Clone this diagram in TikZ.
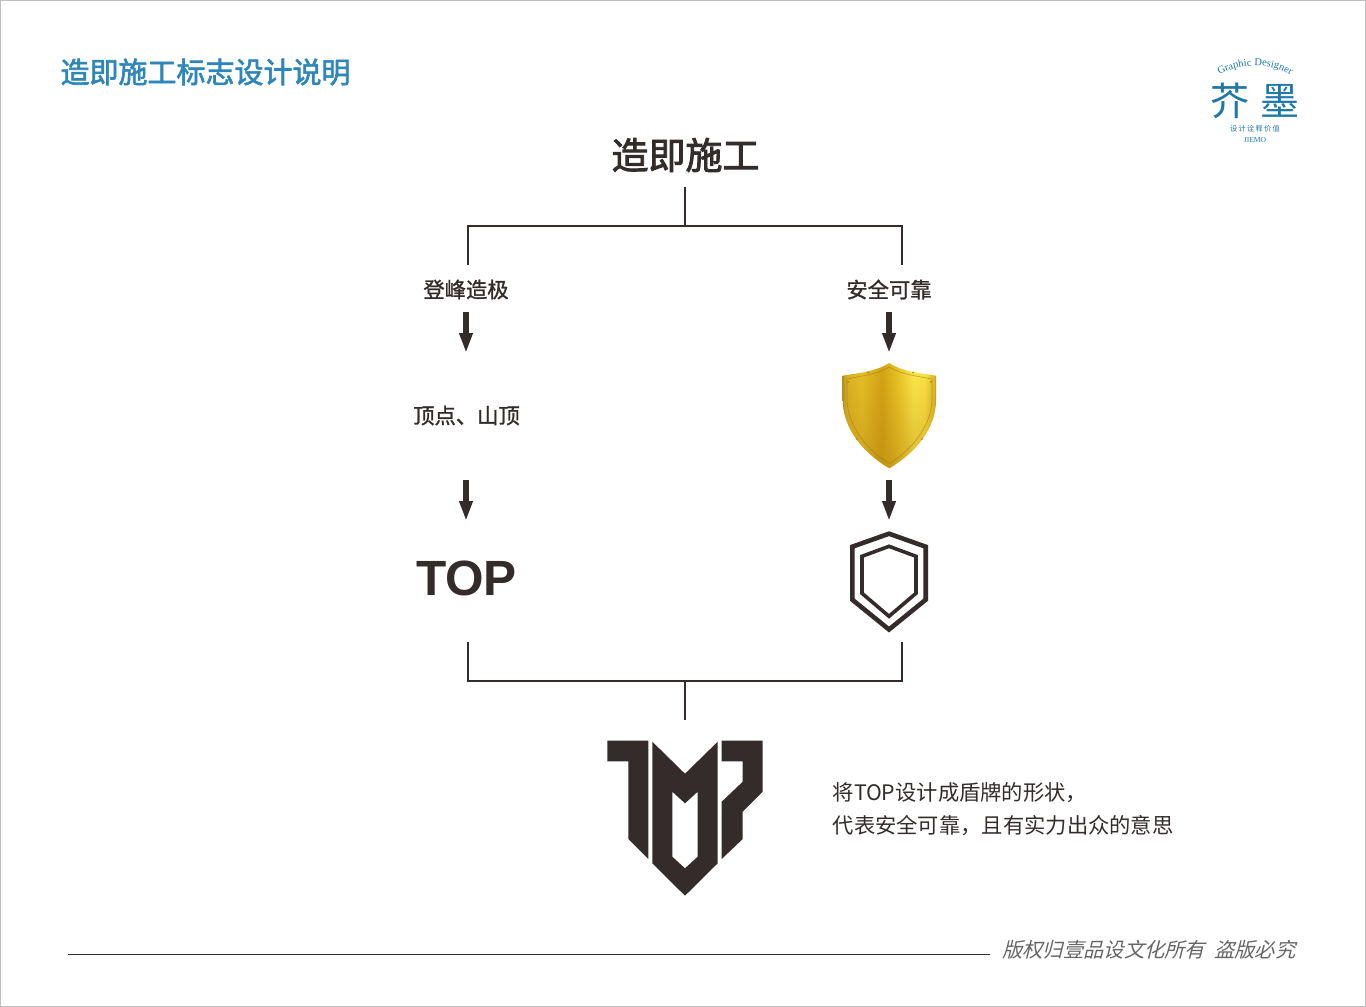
\documentclass[tikz,border=0pt]{standalone}
\usepackage{fontspec}
\usetikzlibrary{arrows.meta,decorations.text,fadings}
\setmainfont{Noto Sans CJK SC}
\newfontfamily\cjkb[FakeBold=2.2]{Noto Sans CJK SC}
\newfontfamily\cjkt[FakeBold=2.4]{Noto Sans CJK SC}
\newfontfamily\cjkm[FakeBold=1.2]{Noto Sans CJK SC}
\newfontfamily\cjks[FakeSlant=0.25]{Noto Sans CJK SC}
\newfontfamily\latb{Liberation Sans}
\newfontfamily\sers{Liberation Serif}
\definecolor{ink}{HTML}{332C2B}
\definecolor{brand}{HTML}{2F86B9}
\definecolor{logoblue}{HTML}{1F78A8}
\definecolor{goldedge}{HTML}{9A7A18}
\definecolor{goldlow}{HTML}{B07C10}
\pgfdeclarehorizontalshading{goldsh}{100bp}{
 rgb(0bp)=(0.72,0.58,0.14);
 rgb(25bp)=(0.72,0.58,0.14);
 rgb(27bp)=(0.86,0.70,0.14);
 rgb(35bp)=(0.91,0.76,0.16);
 rgb(46bp)=(0.83,0.64,0.08);
 rgb(55bp)=(0.93,0.78,0.16);
 rgb(63bp)=(1.00,0.92,0.30);
 rgb(69bp)=(0.99,0.90,0.27);
 rgb(74bp)=(0.88,0.73,0.16);
 rgb(75bp)=(0.72,0.58,0.14);
 rgb(100bp)=(0.72,0.58,0.14)}
\tikzfading[name=shieldfoot,top color=transparent!100,bottom color=transparent!55]
\tikzset{
 conn/.style={draw=ink,line width=2.3pt},
 flow/.style={draw=ink,line width=5.5pt,-{Triangle[width=12.5pt,length=20pt]}},
 lbl/.style={text=ink,inner sep=0pt,font=\cjkm\fontsize{21.3}{24}\selectfont},
 solidmark/.style={fill=ink,draw=none},
 outline/.style={draw=ink,line join=miter,fill=none},
 rivet/.style={fill=goldedge,draw=none,circle,inner sep=0pt,minimum size=1.6pt},
 x=1pt,y=-1pt}
\begin{document}
\begin{tikzpicture}
\useasboundingbox (0,0) rectangle (1366,1007);
\fill[white] (0,0) rectangle (1366,1007);
\draw[black!25,line width=1.5pt] (0.5,0.5) rectangle (1365.5,1006.5);

\node[inner sep=0pt,text=brand,font=\cjkb\fontsize{29}{32}\selectfont] (head) at (205.5,72) {造即施工标志设计说明};

% brand mark
\node[inner sep=0pt,text=logoblue,font=\fontsize{39}{40}\selectfont] (bj) at (1230,101) {芥};
\node[inner sep=0pt,text=logoblue,font=\fontsize{39}{40}\selectfont] (bm) at (1280,101) {墨};
\node[inner sep=0pt,text=logoblue,font=\fontsize{7.2}{8}\selectfont] (bs) at (1255,129) {设\hspace{1.3pt}计\hspace{1.3pt}诠\hspace{1.3pt}释\hspace{1.3pt}价\hspace{1.3pt}值};
\node[inner sep=0pt,text=logoblue,font=\sers\fontsize{7.6}{8}\selectfont] (bn) at (1255,140) {JIEMO};
\path[postaction={decorate,decoration={text along path,text align=center,
  text={|\sers\fontsize{10.5}{11}\selectfont\color{logoblue}|Graphic Designer}}}]
  (1216,76.5) .. controls (1240,62) and (1270,62) .. (1294,76.5);

% tree
\node[inner sep=0pt,text=ink,font=\cjkt\fontsize{37}{40}\selectfont] (title) at (685.5,155) {造即施工};
\coordinate (t0) at (685,187);
\coordinate (t1) at (685,226);
\coordinate (tl) at (468,226);
\coordinate (tr) at (902,226);
\coordinate (tle) at (468,265);
\coordinate (tre) at (902,265);
\draw[conn] (t0) -- (t1);
\draw[conn] (tle) -- (tl) -- (tr) -- (tre);

\node[lbl] (peak) at (466,289.5) {登峰造极};
\node[lbl] (safe) at (889,289.5) {安全可靠};
\node[lbl] (apex) at (466.5,415.5) {顶点、山顶};
\node[inner sep=0pt,text=ink,font=\latb\bfseries\fontsize{49.5}{52}\selectfont] (top) at (466.5,578.5) {TOP};

\coordinate (a1s) at (466,312); \coordinate (a1e) at (466,353);
\coordinate (a2s) at (889,312); \coordinate (a2e) at (889,353);
\coordinate (a3s) at (466,480); \coordinate (a3e) at (466,521);
\coordinate (a4s) at (889,480); \coordinate (a4e) at (889,521);
\draw[flow] (a1s) -- (a1e);
\draw[flow] (a2s) -- (a2e);
\draw[flow] (a3s) -- (a3e);
\draw[flow] (a4s) -- (a4e);

% gold shield
\path[shading=goldsh,shading angle=0]
  (889.3,363) .. controls (875,372) and (858,373) .. (842.7,375.7)
  -- (842.7,400) .. controls (843,428) and (862,452) .. (889.3,468.3)
  .. controls (916.6,452) and (935.9,428) .. (936,400)
  -- (936,375.7) .. controls (920,373) and (903,372) .. (889.3,363) -- cycle;
\fill[goldlow,path fading=shieldfoot]
  (889.3,363) .. controls (875,372) and (858,373) .. (842.7,375.7)
  -- (842.7,400) .. controls (843,428) and (862,452) .. (889.3,468.3)
  .. controls (916.6,452) and (935.9,428) .. (936,400)
  -- (936,375.7) .. controls (920,373) and (903,372) .. (889.3,363) -- cycle;
\draw[goldedge,line width=0.6pt,opacity=.6]
  (889.3,367) .. controls (876,375) and (860,376) .. (847,379)
  -- (847,400) .. controls (848,426) and (866,449) .. (889.3,463.5)
  .. controls (912.6,449) and (931,426) .. (932,400)
  -- (932,379) .. controls (918,376) and (902,375) .. (889.3,367) -- cycle;
\node[rivet] (r1) at (868,372.5) {};
\node[rivet] (r2) at (913,372.5) {};
\node[rivet] (r3) at (848,382) {};
\node[rivet] (r4) at (931,382) {};
\node[rivet] (r5) at (857,439) {};
\node[rivet] (r6) at (922,439) {};

% outline shield
\draw[outline,line width=4.6pt] (889,533.7) -- (925.7,546.7) -- (925.7,599.7) -- (889,629.5) -- (852.3,599.7) -- (852.3,546.7) -- cycle;
\draw[outline,line width=3.6pt] (889,546.3) -- (916,556.3) -- (916,593.3) -- (889,616.3) -- (862,593.3) -- (862,556.3) -- cycle;

% lower bracket
\coordinate (bl) at (468,642);
\coordinate (br) at (902,642);
\coordinate (bbl) at (468,681);
\coordinate (bbr) at (902,681);
\coordinate (b1) at (685,681);
\coordinate (b2) at (685,720);
\draw[conn] (bl) -- (bbl) -- (bbr) -- (br);
\draw[conn] (b1) -- (b2);

% merged logo
\fill[solidmark] (607.3,740.7) -- (648.3,740.7) -- (648.3,859) -- (628.3,839) -- (628.3,761.3) -- (607.3,761.3) -- cycle;
\fill[solidmark,even odd rule] (652.3,741.7) -- (685,773.7) -- (717.7,741.7) -- (717.7,863.3) -- (685,895.7) -- (652.3,863.3) -- cycle
  (672.3,791.7) -- (685,803.3) -- (697.7,791.7) -- (697.7,856.7) -- (685,868.3) -- (672.3,856.7) -- cycle;
\fill[solidmark] (721.7,740.7) -- (762.7,740.7) -- (762.7,791.7) -- (742.7,811.7) -- (742.7,839) -- (721.7,859) -- (721.7,801.7) -- (742.7,781.7) -- (742.7,761.3) -- (721.7,761.3) -- cycle;

\node[anchor=west,inner sep=0pt,text=ink,font=\fontsize{21.3}{24}\selectfont] (d1) at (832.5,793) {将TOP设计成盾牌的形状，};
\node[anchor=west,inner sep=0pt,text=ink,font=\fontsize{21.3}{24}\selectfont] (d2) at (832.5,826) {代表安全可靠，且有实力出众的意思};

% footer
\coordinate (f0) at (68,954);
\coordinate (f1) at (990,954);
\draw[draw=ink,line width=1pt] (f0) -- (f1);
\node[anchor=west,inner sep=0pt,text=black!60,font=\cjks\fontsize{20.3}{22}\selectfont] (foot) at (1002,950) {版权归壹品设文化所有\hspace{9pt}盗版必究};
\end{tikzpicture}
\end{document}
